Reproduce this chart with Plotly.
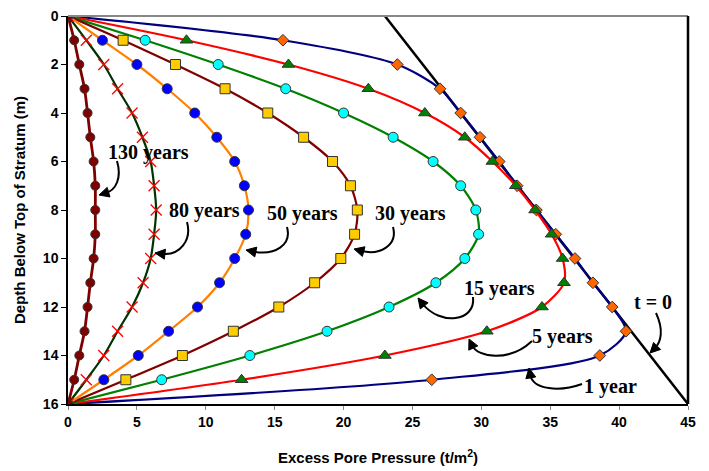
import math
import plotly.graph_objects as go

# ---------------- data ----------------
depth = list(range(0, 17))
t0_x = [23, 45]
t0_depth = [0, 16]
yr1 = [0, 15.6, 23.9, 27.0, 28.5, 29.9, 31.3, 32.6, 34.0, 35.4, 36.8, 38.1, 39.5, 40.5, 38.6, 26.4, 0]
yr5 = [0, 8.6, 16.0, 21.8, 25.9, 28.8, 30.8, 32.5, 33.9, 35.1, 35.9, 36.0, 34.4, 30.4, 23.0, 12.6, 0]
yr15 = [0, 5.6, 10.9, 15.8, 20.0, 23.6, 26.5, 28.5, 29.6, 29.8, 28.8, 26.7, 23.3, 18.8, 13.2, 6.8, 0]
yr30 = [0, 4.0, 7.8, 11.4, 14.5, 17.1, 19.2, 20.5, 21.0, 20.8, 19.8, 17.9, 15.3, 12.0, 8.3, 4.2, 0]
yr50 = [0, 2.5, 5.0, 7.2, 9.2, 10.8, 12.1, 12.8, 13.1, 12.9, 12.1, 11.0, 9.4, 7.3, 5.1, 2.6, 0]
yr80 = [0, 1.33, 2.6, 3.6, 4.65, 5.4, 6.0, 6.25, 6.4, 6.25, 6.0, 5.45, 4.65, 3.6, 2.6, 1.33, 0]
yr130 = [0, 0.45, 0.82, 1.2, 1.42, 1.62, 1.86, 1.98, 1.98, 1.98, 1.86, 1.62, 1.42, 1.2, 0.82, 0.45, 0]
labels = ["130 years", "80 years", "50 years", "30 years", "15 years", "5 years", "1 year", "t = 0"]
x_ticks = [0, 5, 10, 15, 20, 25, 30, 35, 40, 45]
y_ticks = [0, 2, 4, 6, 8, 10, 12, 14, 16]

# ---------------- layout geometry (page pixels) ----------------
PAGE_OFF = 8            # default body margin of the html page
W, H = 709 - PAGE_OFF, 471 - PAGE_OFF
L, R, T, B = 68, 688, 16, 404   # plot area in page pixels
XMAX, YMAX = 45, 16


def px(x):
    return (x - L) / (R - L) * XMAX


def py(y):
    return (y - T) / (B - T) * YMAX


fig = go.Figure()

fig.add_trace(go.Scatter(x=t0_x, y=t0_depth, mode="lines",
                         line=dict(color="black", width=2.5), name="t = 0"))


def series(xs, name, lcolor, sym, mcolor, msize, lw=2.2, mline="#333333", mlw=1):
    fig.add_trace(go.Scatter(
        x=xs, y=depth, mode="lines+markers", name=name,
        line=dict(color=lcolor, width=lw, shape="spline", smoothing=0.8),
        marker=dict(symbol=sym, color=mcolor, size=msize,
                    line=dict(color=mline, width=mlw))))


series(yr1, "1 year", "#000080", "diamond", "#FF6600", 9)
series(yr5, "5 years", "#FF0000", "triangle-up", "#008000", 11)
series(yr15, "15 years", "#008000", "circle", "#00FFFF", 10)
series(yr30, "30 years", "#800000", "square", "#FFCC00", 10)
series(yr50, "50 years", "#FF8000", "circle", "#0000FF", 10)
series(yr80, "80 years", "#003300", "x-thin-open", "#FF0000", 11, mline="#FF0000", mlw=1.3)
series(yr130, "130 years", "#800000", "circle", "#800000", 9, lw=2.8)

# ---------------- labels with curved arrows ----------------
ann_geo = [
    ((148, 152), [(117, 161), (122, 178), (116, 190), (99, 195)]),
    ((204, 210), [(187, 222), (192, 240), (180, 256), (155, 253)]),
    ((302, 213), [(287, 227), (292, 245), (275, 256), (246, 250)]),
    ((410, 213), [(393, 227), (398, 245), (380, 256), (354, 249)]),
    ((499, 288), [(473, 297), (476, 322), (440, 326), (418, 298)]),
    ((562, 336), [(532, 341), (510, 362), (478, 358), (469, 339)]),
    ((610, 386), [(582, 384), (560, 392), (533, 390), (529, 368)]),
    ((653, 302), [(656, 313), (664, 330), (661, 342), (650, 353)]),
]

shapes = []
annotations = []
for text, ((tx, ty), pts) in zip(labels, ann_geo):
    annotations.append(dict(x=px(tx), y=py(ty), xref="x", yref="y", text=text,
                            showarrow=False,
                            font=dict(family="Liberation Serif, Times New Roman, serif",
                                      size=20, color="black", weight="bold")))
    (sx, sy), (c1x, c1y), (c2x, c2y), (ex, ey) = pts
    dx, dy = c2x - ex, c2y - ey
    n = math.hypot(dx, dy)
    ux, uy = dx / n, dy / n
    bx, by = ex + ux * 7, ey + uy * 7
    path = "M {},{} C {},{} {},{} {},{}".format(px(sx), py(sy), px(c1x), py(c1y),
                                                px(c2x), py(c2y), px(bx), py(by))
    shapes.append(dict(type="path", path=path, xref="x", yref="y",
                       line=dict(color="black", width=2)))
    hl, hw = 10, 5
    b2x, b2y = ex + ux * hl, ey + uy * hl
    p1 = (b2x - uy * hw, b2y + ux * hw)
    p2 = (b2x + uy * hw, b2y - ux * hw)
    tri = "M {},{} L {},{} L {},{} Z".format(px(ex), py(ey), px(p1[0]), py(p1[1]),
                                             px(p2[0]), py(p2[1]))
    shapes.append(dict(type="path", path=tri, xref="x", yref="y",
                       fillcolor="black", line=dict(color="black", width=1)))

# frame: top (gray) and right (black)
shapes.append(dict(type="line", xref="paper", yref="paper", x0=0, x1=1, y0=1, y1=1,
                   line=dict(color="#888888", width=2)))
shapes.append(dict(type="line", xref="paper", yref="paper", x0=1, x1=1, y0=0, y1=1,
                   line=dict(color="black", width=2.5)))

tick_font = dict(family="Liberation Sans, Arial, sans-serif", size=14, color="black", weight="bold")
title_font = dict(family="Liberation Sans, Arial, sans-serif", size=15, color="black", weight="bold")

fig.update_layout(
    width=W, height=H,
    margin=dict(l=L - PAGE_OFF, r=709 - R, t=T - PAGE_OFF, b=471 - B, autoexpand=False),
    paper_bgcolor="white", plot_bgcolor="white",
    showlegend=False,
    shapes=shapes, annotations=annotations,
    xaxis=dict(range=[0, XMAX], tickvals=x_ticks, showgrid=False, zeroline=False,
               showline=True, linecolor="black", linewidth=2,
               ticks="outside", ticklen=4, tickcolor="#888888", automargin=False,
               ticklabeloverflow="allow", tickfont=tick_font,
               title=dict(text="Excess Pore Pressure (t/m<sup>2</sup>)", font=title_font, standoff=24)),
    yaxis=dict(range=[YMAX, 0], tickvals=y_ticks, showgrid=False, zeroline=False,
               showline=True, linecolor="black", linewidth=1.5,
               ticks="outside", ticklen=5, tickcolor="black", automargin=False,
               ticklabeloverflow="allow", tickfont=tick_font,
               title=dict(text="Depth Below Top of Stratum (m)", font=title_font, standoff=14)),
)

fig.write_html("out.html")
